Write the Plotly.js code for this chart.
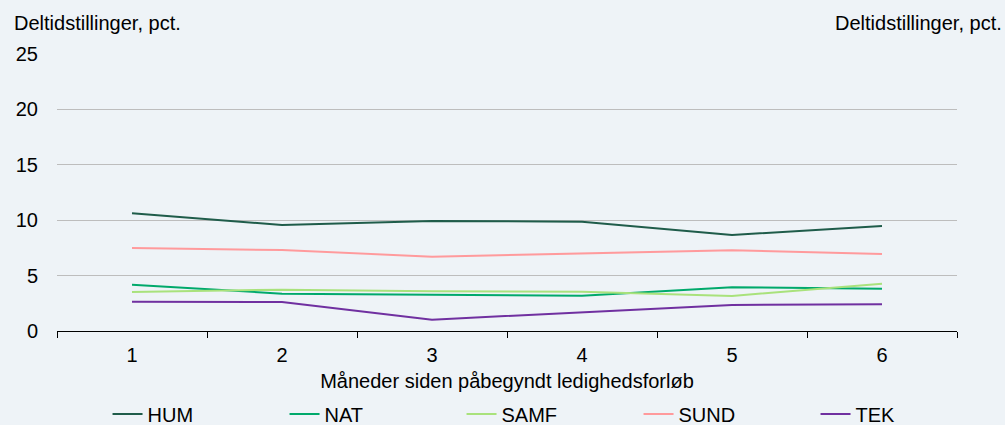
<!DOCTYPE html>
<html>
<head>
<meta charset="utf-8">
<script src="https://cdn.plot.ly/plotly-3.0.1.min.js"></script>
<style>html,body{margin:0;padding:0;background:#eef3f7;}</style>
</head>
<body>
<div id="chart" style="width:1005px;height:425px;"></div>
<script>
const months = ['1', '2', '3', '4', '5', '6'];
const HUM = [10.62, 9.57, 9.93, 9.87, 8.66, 9.48];
const NAT = [4.18, 3.37, 3.28, 3.19, 3.94, 3.82];
const SAMF = [3.52, 3.73, 3.58, 3.55, 3.16, 4.27];
const SUND = [7.49, 7.31, 6.71, 7.00, 7.28, 6.95];
const TEK = [2.65, 2.62, 1.02, 1.69, 2.35, 2.41];
const yTicks = [0, 5, 10, 15, 20, 25];
const yTitle = 'Deltidstillinger, pct.';
const xTitle = 'Måneder siden påbegyndt ledighedsforløb';

const seriesNames = ['HUM', 'NAT', 'SAMF', 'SUND', 'TEK'];
const seriesData = [HUM, NAT, SAMF, SUND, TEK];
const colors = ['#1f5c4a', '#00a96b', '#a9e27c', '#ff9a9c', '#7030a0'];

const font = {family: '"Liberation Sans", Arial, sans-serif', size: 20, color: '#000'};

const traces = seriesNames.map((n, i) => ({
  x: months, y: seriesData[i], name: n, type: 'scatter', mode: 'lines',
  line: {color: colors[i], width: 2}, hoverinfo: 'skip'
}));

const layout = {
  width: 1005, height: 425,
  margin: {l: 57, r: 48, t: 54, b: 94, pad: 0},
  paper_bgcolor: '#eef3f7', plot_bgcolor: '#eef3f7',
  font: font,
  showlegend: true,
  xaxis: {
    type: 'category', categoryorder: 'array', categoryarray: months,
    range: [-0.5, 5.5], autorange: false,
    tickson: 'boundaries', ticks: 'outside', ticklen: 6, tickcolor: '#000', tickwidth: 1,
    showline: true, linecolor: '#000', linewidth: 1, showgrid: false, zeroline: false,
    tickfont: font, ticklabelstandoff: 6,
    title: {text: xTitle, font: font, standoff: 8}
  },
  yaxis: {
    range: [0, 25], tickvals: yTicks, ticktext: yTicks.map(String),
    showgrid: true, gridcolor: '#bdbdbd', gridwidth: 1.3, zeroline: false, showline: false,
    ticks: '', tickfont: font, ticklabelstandoff: 18, fixedrange: true
  },
  yaxis2: {
    overlaying: 'y', side: 'right', range: [0, 25], tickvals: yTicks, ticktext: yTicks.map(String),
    showgrid: false, zeroline: false, showline: false, ticks: '', tickfont: font, ticklabelstandoff: 18
  },
  legend: {
    orientation: 'h', xref: 'container', yref: 'container',
    x: 0.107, xanchor: 'left', y: 0.026, yanchor: 'middle',
    entrywidth: 132, entrywidthmode: 'pixels', font: font, bgcolor: 'rgba(0,0,0,0)'
  },
  annotations: [
    {text: yTitle, xref: 'paper', yref: 'paper', x: 0, y: 1, xanchor: 'left', yanchor: 'bottom',
     xshift: -45, yshift: 18, showarrow: false, font: font},
    {text: yTitle, xref: 'paper', yref: 'paper', x: 1, y: 1, xanchor: 'right', yanchor: 'bottom',
     xshift: 47, yshift: 18, showarrow: false, font: font}
  ]
};

Plotly.newPlot('chart', traces, layout, {displayModeBar: false, staticPlot: true});
</script>
</body>
</html>
